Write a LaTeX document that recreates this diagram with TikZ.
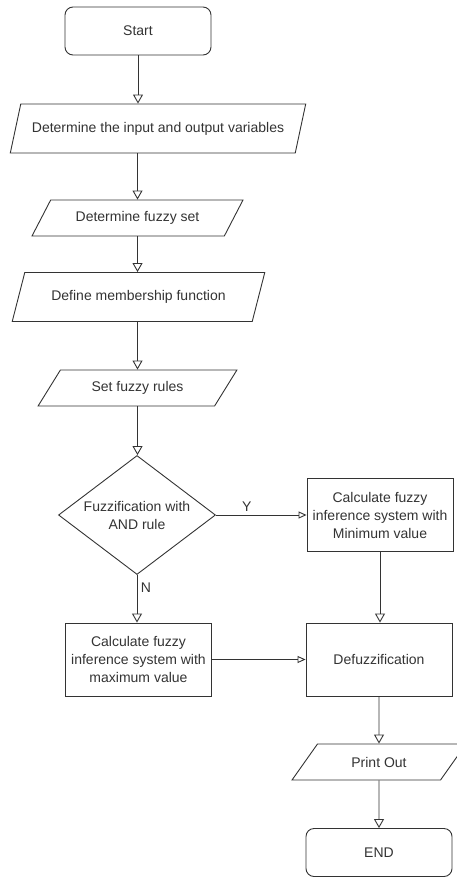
\documentclass[tikz,border=0pt]{standalone}
\usepackage{fontspec}
\setmainfont{Liberation Sans}
\usetikzlibrary{shapes.geometric,arrows.meta}

\begin{document}
\begin{tikzpicture}[x=1pt, y=-1pt, color=black!80, line width=0.9pt,
    every node/.style={font=\fontsize{14}{18}\selectfont},
    terminal/.style={draw, rounded corners=8pt, minimum width=146pt, minimum height=48pt},
    io/.style={draw, trapezium, trapezium left angle=56, trapezium right angle=124,
      trapezium stretches=true, minimum height=36pt, inner xsep=0pt},
    tallio/.style={io, trapezium left angle=64, trapezium right angle=116, minimum height=49pt},
    process/.style={draw, minimum width=146pt, minimum height=73pt, inner sep=0pt, align=center},
    decision/.style={draw, diamond, aspect=1.32, minimum width=157pt, minimum height=119pt,
      inner sep=0pt, align=center},
    flow/.style={-{Triangle[open, width=10pt, length=9pt]}},
    sideflow/.style={-{Triangle[open, width=7pt, length=8pt]}}
  ]
    \useasboundingbox (0,0) rectangle (456,877);

    % Main column
    \node[terminal] (start) at (138,31) {Start};
    \node[tallio, minimum width=296pt] (inout) at (158,128.5) {Determine the input and output variables};
    \node[io, minimum width=211pt] (fset) at (137.5,218) {Determine fuzzy set};
    \node[tallio, minimum width=253pt] (member) at (138.5,297) {Define membership function};
    \node[io, minimum width=199pt] (rules) at (137.5,388) {Set fuzzy rules};

    % Decision
    \node[decision] (fuzz) at (137,515) {Fuzzification with\\AND rule};
    \node[process] (minval) at (380,515) {Calculate fuzzy\\inference system with\\Minimum value};
    \node[process] (maxval) at (138.5,659.5) {Calculate fuzzy\\inference system with\\maximum value};

    % Output
    \node[process] (defuzz) at (379,659.5) {Defuzzification};
    \node[io, minimum width=174pt] (print) at (379,762) {Print Out};
    \node[terminal] (end) at (379,852.5) {END};

    % Arrows
    \draw[flow] (start.south) -- (start.south |- inout.north);
    \draw[flow] (inout.south -| fset.north) -- (fset.north);
    \draw[flow] (fset.south) -- (member.north -| fset.south);
    \draw[flow] (member.south -| rules.north) -- (rules.north);
    \draw[flow] (rules.south) -- (fuzz.north -| rules.south);
    \draw[sideflow] (fuzz.east) -- (minval.west) node[pos=0.34, above] {Y};
    \draw[flow] (fuzz.south) -- (maxval.north -| fuzz.south) node[pos=0.27, right] {N};
    \draw[flow] (minval.south) -- (defuzz.north -| minval.south);
    \draw[sideflow] (maxval.east) -- (defuzz.west);
    \draw[flow] (defuzz.south) -- (print.north);
    \draw[flow] (print.south) -- (end.north);
\end{tikzpicture}
\end{document}
